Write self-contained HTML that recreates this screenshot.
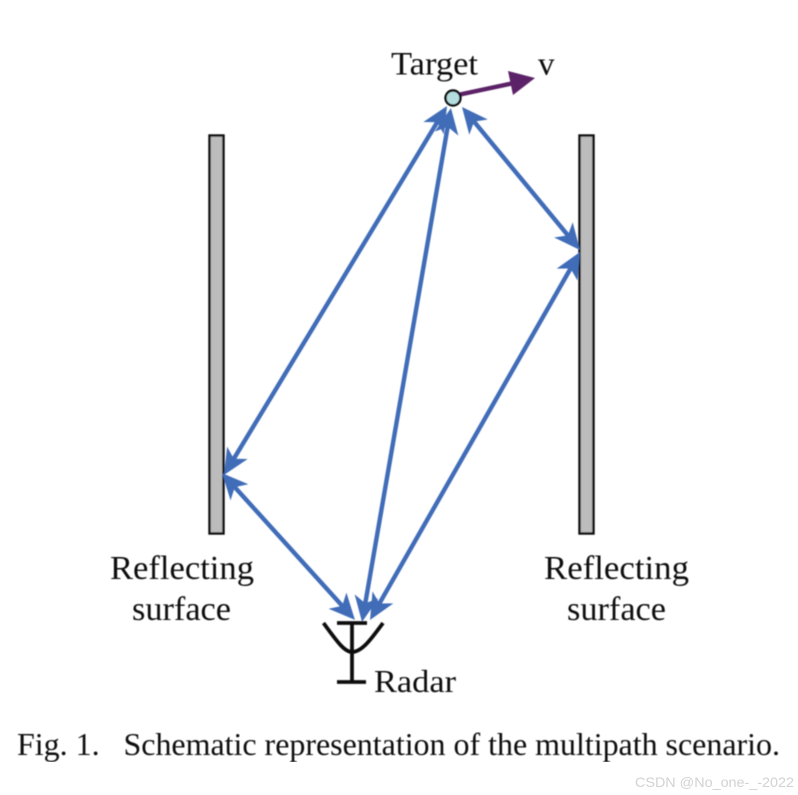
<!DOCTYPE html>
<html>
<head>
<meta charset="utf-8">
<style>
html,body{margin:0;padding:0;background:#fff;width:798px;height:795px;overflow:hidden}
svg{display:block}
text{font-family:"Liberation Serif",serif;fill:#111}
</style>
</head>
<body>
<svg width="798" height="795" viewBox="0 0 798 795" xmlns="http://www.w3.org/2000/svg">
<defs>
<marker id="b" markerUnits="userSpaceOnUse" markerWidth="30" markerHeight="30" refX="20" refY="15" orient="auto-start-reverse" viewBox="0 0 30 30">
<path d="M28,15 L2,3 L9,15 L2,27 Z" fill="#3f6cb8"/>
</marker>
<filter id="s" x="0" y="0" width="100%" height="100%"><feGaussianBlur stdDeviation="0.4"/></filter>
</defs>
<rect width="798" height="795" fill="#fff"/>
<g filter="url(#s)">
<rect x="209.5" y="135.5" width="14" height="398" fill="#bcbcbc" stroke="#111" stroke-width="2.4"/>
<rect x="579.5" y="135.5" width="14" height="398" fill="#bcbcbc" stroke="#111" stroke-width="2.4"/>
<g stroke="#3f6cb8" stroke-width="4.4" fill="none" marker-start="url(#b)" marker-end="url(#b)">
<line x1="442.9" y1="112.8" x2="228.1" y2="468.2"/>
<line x1="449.6" y1="115.9" x2="363.4" y2="614.1"/>
<line x1="467.1" y1="113.2" x2="574.9" y2="243.8"/>
<line x1="576" y1="259" x2="374" y2="613"/>
<line x1="227.4" y1="479" x2="349.6" y2="614"/>
</g>
<line x1="460" y1="94.5" x2="514" y2="83" stroke="#5c2068" stroke-width="4.4"/>
<path d="M535,78 L508,71 L513,95 Z" fill="#5c2068"/>
<circle cx="453" cy="98" r="7.5" fill="#b5dde0" stroke="#111" stroke-width="2.4"/>
<g stroke="#111" stroke-width="3.8" fill="none">
<path d="M323.5,623 C336,640 344,652 352,652 C362,652 372,638 383,623"/>
<line x1="352" y1="623" x2="352" y2="682"/>
<line x1="337" y1="623" x2="367" y2="623"/>
<line x1="337" y1="682" x2="366" y2="682"/>
</g>
<text x="391" y="74.5" font-size="33" textLength="87" lengthAdjust="spacingAndGlyphs">Target</text>
<text x="538" y="74.5" font-size="33">v</text>
<text x="110" y="579" font-size="34" textLength="144" lengthAdjust="spacingAndGlyphs">Reflecting</text>
<text x="132" y="620" font-size="34" textLength="99" lengthAdjust="spacingAndGlyphs">surface</text>
<text x="544" y="579" font-size="34" textLength="145" lengthAdjust="spacingAndGlyphs">Reflecting</text>
<text x="567" y="620" font-size="34" textLength="99" lengthAdjust="spacingAndGlyphs">surface</text>
<text x="374" y="692" font-size="32" textLength="82" lengthAdjust="spacingAndGlyphs">Radar</text>
<text x="17" y="755" font-size="32" textLength="763" lengthAdjust="spacing" xml:space="preserve">Fig. 1.   Schematic representation of the multipath scenario.</text>
</g>
<text x="635" y="787" font-size="14" textLength="159" lengthAdjust="spacingAndGlyphs" style="font-family:'Liberation Sans',sans-serif;fill:#d2d2d2">CSDN @No_one-_-2022</text>
</svg>
</body>
</html>
